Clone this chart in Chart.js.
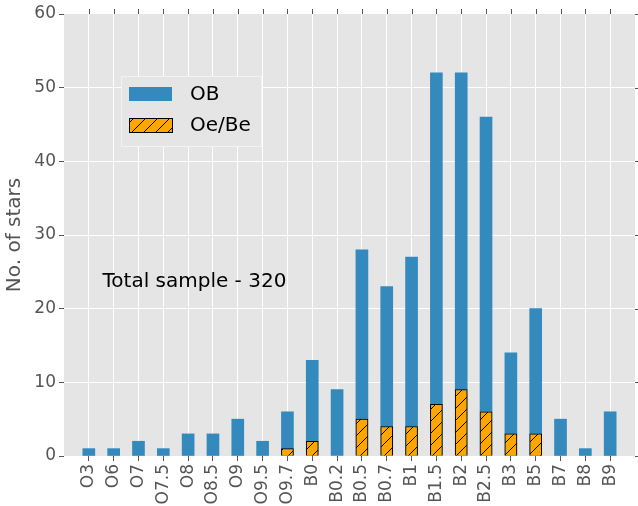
<!DOCTYPE html>
<html>
  <head>
    <script src="https://cdn.jsdelivr.net/npm/chart.js@4/dist/chart.umd.min.js"></script>
    <style>
      body { margin: 0; background: #fff; }
    </style>
  </head>

  <body>
    <canvas id="canvas" width="638" height="506"></canvas>
    <script>
      const spectralTypes = ['O3', 'O6', 'O7', 'O7.5', 'O8', 'O8.5', 'O9', 'O9.5', 'O9.7', 'B0', 'B0.2',
        'B0.5', 'B0.7', 'B1', 'B1.5', 'B2', 'B2.5', 'B3', 'B5', 'B7', 'B8', 'B9'];
      const obCounts = [1, 1, 2, 1, 3, 3, 5, 2, 6, 13, 9, 28, 23, 27, 52, 52, 46, 14, 20, 5, 1, 6];
      const oebeCounts = [0, 0, 0, 0, 0, 0, 0, 0, 1, 2, 0, 5, 4, 4, 7, 9, 6, 3, 3, 0, 0, 0];
      const yTicks = [0, 10, 20, 30, 40, 50, 60];
      const totalNote = 'Total sample - 320';

      const FONT = 'DejaVu Sans';
      const GREY = '#555555';
      const CLEAR = 'rgba(0,0,0,0)';

      // hatch pattern like matplotlib '/'
      function hatch() {
        const c = document.createElement('canvas');
        c.width = 12; c.height = 12;
        const g = c.getContext('2d');
        g.fillStyle = '#FFA500';
        g.fillRect(0, 0, 12, 12);
        g.strokeStyle = '#000';
        g.lineWidth = 1;
        g.beginPath();
        g.moveTo(-6, 6); g.lineTo(6, -6);
        g.moveTo(0, 12); g.lineTo(12, 0);
        g.moveTo(6, 18); g.lineTo(18, 6);
        g.stroke();
        return g.createPattern(c, 'repeat');
      }

      const ctx = document.getElementById('canvas').getContext('2d');
      const oebeFill = hatch();

      const xEdge = (c) => !c.tick || c.tick.value < 0 || c.tick.value > spectralTypes.length - 1;
      const yEdge = (c) => !c.tick || c.tick.value === 0 || c.tick.value === 60;

      const frame = {
        id: 'frame',
        beforeDraw(chart) {
          const { ctx, chartArea: a } = chart;
          ctx.save();
          ctx.fillStyle = '#E5E5E5';
          ctx.fillRect(a.left, a.top, a.right - a.left, a.bottom - a.top);
          ctx.restore();
        },
        afterDraw(chart) {
          const { ctx, chartArea: a, scales } = chart;
          ctx.save();
          // ticks on top and right side
          ctx.strokeStyle = GREY;
          ctx.lineWidth = 1;
          ctx.beginPath();
          spectralTypes.forEach((_, i) => {
            const x = Math.round(scales.x.getPixelForValue(i)) + 0.5;
            ctx.moveTo(x, a.top); ctx.lineTo(x, a.top - 5);
          });
          yTicks.forEach((v) => {
            const y = Math.round(scales.y.getPixelForValue(v)) + 0.5;
            ctx.moveTo(a.right, y); ctx.lineTo(a.right + 5, y);
          });
          ctx.stroke();

          // legend
          const lx = 121, ly = 76, lw = 140, lh = 70;
          ctx.fillStyle = '#E5E5E5';
          ctx.fillRect(lx, ly, lw, lh);
          ctx.strokeStyle = '#F2F2F2';
          ctx.strokeRect(lx + 0.5, ly + 0.5, lw, lh);
          ctx.font = '20px ' + FONT;
          ctx.textBaseline = 'middle';
          chart.data.datasets.slice().reverse().forEach((ds, i) => {
            const sy = ly + 11 + i * 31;
            ctx.fillStyle = ds.backgroundColor;
            ctx.fillRect(129, sy, 43, 14);
            if (ds.borderWidth) {
              ctx.strokeStyle = ds.borderColor;
              ctx.strokeRect(129.5, sy + 0.5, 43, 14);
            }
            ctx.fillStyle = '#000';
            ctx.fillText(ds.label, 190, sy + 8);
          });

          // annotation
          ctx.font = '20px ' + FONT;
          ctx.textBaseline = 'alphabetic';
          ctx.fillStyle = '#000';
          ctx.fillText(totalNote, scales.x.getPixelForValue(0.55), scales.y.getPixelForValue(23));
          ctx.restore();
        },
      };

      new Chart(ctx, {
        type: 'bar',
        data: {
          datasets: [
            {
              label: 'Oe/Be',
              data: oebeCounts.map((v, i) => ({ x: i, y: v || null })),
              backgroundColor: oebeFill,
              borderColor: '#000',
              borderWidth: 1,
              order: 0,
            },
            {
              label: 'OB',
              data: obCounts.map((v, i) => ({ x: i, y: v })),
              backgroundColor: '#348ABD',
              borderWidth: 0,
              order: 1,
            },
          ],
        },
        options: {
          responsive: false,
          animation: false,
          grouped: false,
          barThickness: 12,
          layout: { padding: { top: 14, right: 3, left: 0, bottom: 0 } },
          plugins: {
            legend: { display: false },
            tooltip: { enabled: false },
          },
          scales: {
            x: {
              type: 'linear',
              offset: false,
              min: -1,
              max: spectralTypes.length,
              afterFit: (s) => {
                s.height = 50;
                s.paddingLeft = 0;
                s.paddingRight = 0;
              },
              afterBuildTicks: (s) => {
                s.ticks = [];
                for (let v = -1; v <= spectralTypes.length; v++) s.ticks.push({ value: v });
              },
              border: { display: false },
              grid: {
                offset: false,
                color: (c) => (xEdge(c) ? CLEAR : '#FFFFFF'),
                tickColor: (c) => (xEdge(c) ? CLEAR : GREY),
                tickLength: 5,
                lineWidth: 1,
              },
              ticks: {
                autoSkip: false,
                maxRotation: 90,
                minRotation: 90,
                padding: 3,
                color: GREY,
                font: { family: FONT, size: 17 },
                callback: (v) => spectralTypes[v] || '',
              },
            },
            y: {
              min: 0,
              max: 60,
              afterFit: (s) => { s.width = 64; },
              afterBuildTicks: (s) => { s.ticks = yTicks.map((v) => ({ value: v })); },
              border: { display: false },
              grid: {
                color: (c) => (yEdge(c) ? CLEAR : '#FFFFFF'),
                tickColor: GREY,
                tickLength: 5,
                lineWidth: 1,
              },
              ticks: {
                padding: 3,
                color: GREY,
                font: { family: FONT, size: 17 },
              },
              title: {
                display: true,
                text: 'No. of stars',
                color: GREY,
                padding: { top: 3, bottom: 0 },
                font: { family: FONT, size: 20 },
              },
            },
          },
        },
        plugins: [frame],
      });
    </script>
  </body>
</html>
